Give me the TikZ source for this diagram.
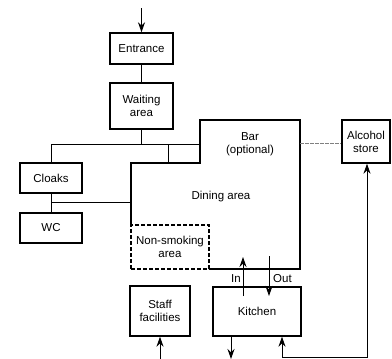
\documentclass[tikz,border=0pt]{standalone}
\usepackage{fontspec}
\setmainfont{Liberation Sans}
\usetikzlibrary{arrows.meta}
\begin{document}
\begin{tikzpicture}[x=1pt,y=-1pt,
  box/.style={draw,line width=1.4pt,inner sep=0pt},
  lbl/.style={font=\fontsize{11.5}{13}\selectfont,align=center,inner sep=0pt},
  conn/.style={line width=0.9pt},
  arr/.style={line width=0.9pt,-{Stealth[length=10pt,width=7pt]}},
  biarr/.style={line width=0.9pt,{Stealth[length=10pt,width=7pt]}-{Stealth[length=10pt,width=7pt]}}]
\useasboundingbox (0,0) rectangle (392,359);
% boxes
\node[box,minimum width=63pt,minimum height=31pt] (ent) at (141.5,48.5) {};
\node[lbl] at (ent) {Entrance};
\node[box,minimum width=63pt,minimum height=46pt] (wait) at (141.5,106) {};
\node[lbl] at (wait) {Waiting\\area};
\node[box,minimum width=62pt,minimum height=30pt] (cloaks) at (51,178) {};
\node[lbl] at (cloaks) {Cloaks};
\node[box,minimum width=62pt,minimum height=30pt] (wc) at (51,228) {};
\node[lbl] at (wc) {WC};
\node[box,minimum width=60pt,minimum height=50pt] (staff) at (160,311) {};
\node[lbl] at (staff) {Staff\\facilities};
\node[box,minimum width=88pt,minimum height=49pt] (kitchen) at (257,311.5) {};
\node[lbl] at (kitchen) {Kitchen};
\node[box,minimum width=48pt,minimum height=43pt] (alc) at (366,141.5) {};
\node[lbl] at (alc) {Alcohol\\store};
% main dining/bar outline
\coordinate (d1) at (131,163);
\coordinate (d2) at (200,163);
\coordinate (d3) at (200,120);
\coordinate (d4) at (300,120);
\coordinate (d5) at (300,269);
\coordinate (d6) at (209,269);
\coordinate (d7) at (131,225);
\draw[line width=1.4pt] (d7) -- (d1) -- (d2) -- (d3) -- (d4) -- (d5) -- (d6);
\node[draw,line width=1.4pt,dash pattern=on 4pt off 2pt,minimum width=78pt,minimum height=44pt,inner sep=0pt] (nonsm) at (170,247) {};
\node[lbl] at (nonsm) {Non-smoking\\area};
\node[lbl] (bar) at (250,144.5) {Bar\\(optional)};
\node[lbl] (dining) at (221,197) {Dining area};
% connectors
\coordinate (top) at (141.5,8);
\draw[arr] (top) -- (ent.north);
\draw[conn] (ent.south) -- (wait.north);
\coordinate (hj) at (141.5,144);
\coordinate (hl) at (51,144);
\coordinate (hr) at (200,144);
\coordinate (hm) at (168,144);
\coordinate (hmb) at (168,163);
\draw[conn] (wait.south) -- (hj);
\draw[conn] (hl) -- (hr);
\draw[conn] (hm) -- (hmb);
\draw[conn] (hl) -- (cloaks.north);
\draw[conn] (cloaks.south) -- (wc.north);
\coordinate (cw) at (51,202);
\coordinate (cwr) at (131,202);
\draw[conn] (cw) -- (cwr);
\coordinate (barr) at (300,143);
\draw[line width=0.8pt,gray,dash pattern=on 4pt off 1pt] (barr) -- (alc.west |- barr);
% staff
\coordinate (sb) at (160,359);
\draw[arr] (sb) -- (staff.south);
% kitchen in/out
\coordinate (inb) at (243,296);
\coordinate (int) at (243,257);
\draw[arr] (inb) -- (int);
\coordinate (outt) at (269,256);
\coordinate (outb) at (269,296);
\draw[arr] (outt) -- (outb);
\node[lbl,anchor=east] (inlbl) at (241,279) {In};
\node[lbl,anchor=west] (outlbl) at (273,279) {Out};
% kitchen bottom
\coordinate (kout) at (231,336);
\coordinate (koutb) at (231,359);
\draw[arr] (kout) -- (koutb);
\coordinate (k1) at (282,357);
\coordinate (k2) at (367,357);
\draw[biarr] (alc.south -| k2) -- (k2) -- (k1) -- (kitchen.south -| k1);
\end{tikzpicture}
\end{document}
